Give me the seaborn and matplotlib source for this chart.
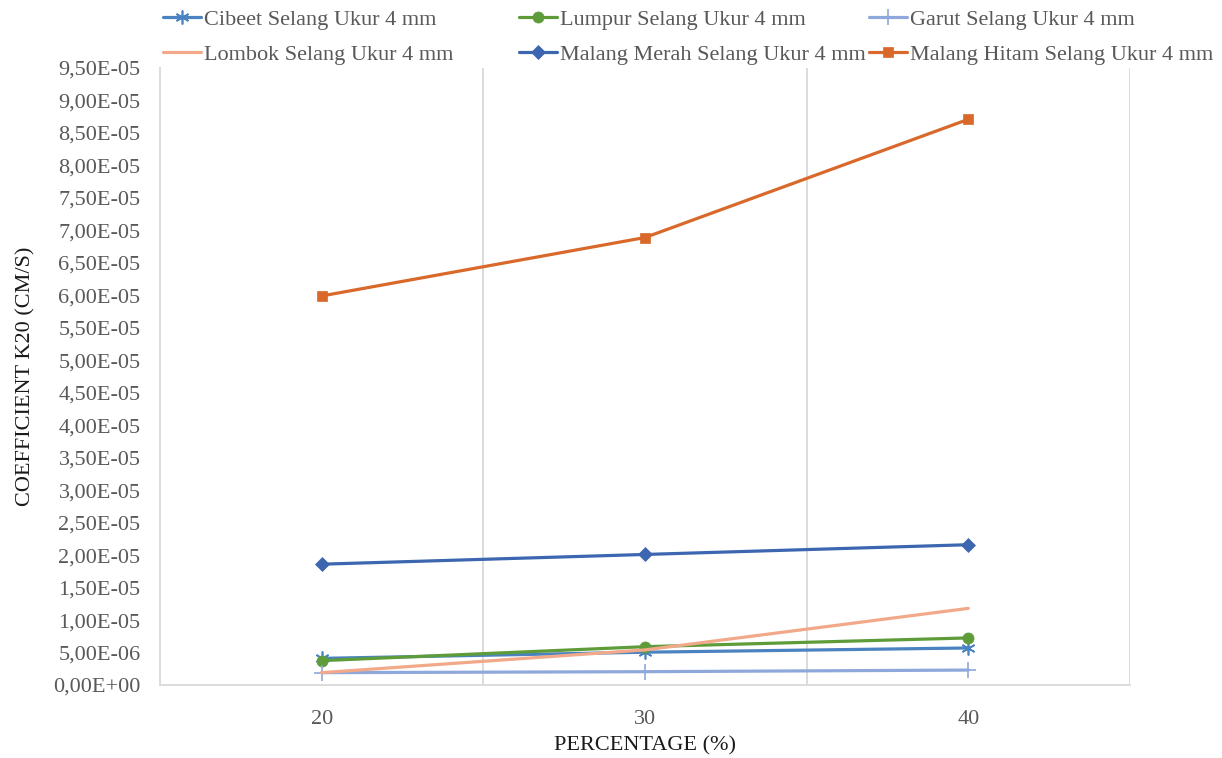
import matplotlib
matplotlib.use("Agg")
import matplotlib.pyplot as plt
import matplotlib.ticker as mticker
import seaborn as sns
import pandas as pd
import numpy as np

categories = ["20", "30", "40"]
series_names = [
    "Cibeet Selang Ukur 4 mm",
    "Lumpur Selang Ukur 4 mm",
    "Garut Selang Ukur 4 mm",
    "Lombok Selang Ukur 4 mm",
    "Malang Merah Selang Ukur 4 mm",
    "Malang Hitam Selang Ukur 4 mm",
]
cibeet = [4.10e-06, 5.05e-06, 5.70e-06]
lumpur = [3.75e-06, 5.90e-06, 7.25e-06]
garut = [1.90e-06, 2.05e-06, 2.30e-06]
lombok = [1.90e-06, 5.40e-06, 1.18e-05]
malang_merah = [1.86e-05, 2.01e-05, 2.16e-05]
malang_hitam = [5.99e-05, 6.89e-05, 8.71e-05]
values = [cibeet, lumpur, garut, lombok, malang_merah, malang_hitam]

colors = ["#4A83C0", "#5E9C3A", "#8FA8DC", "#F2A98A", "#3D66B0", "#D9692A"]
markers = [(6, 2, 0), "o", "+", None, "D", "s"]
msizes = [10, 8, 11, 0, 7, 7]

rows = []
for name, vals in zip(series_names, values):
    for i, v in enumerate(vals):
        rows.append({"series": name, "pos": i, "value": v})
df = pd.DataFrame(rows)

sns.set_theme(style="white")
plt.rcParams["font.family"] = ["Liberation Serif", "DejaVu Serif"]

fig = plt.figure(figsize=(12.22, 7.58), dpi=100)
ax = fig.add_axes([160 / 1222, 1 - 685 / 758, (1130 - 160) / 1222, (685 - 68) / 758])

handles = []
for name, c, m, ms in zip(series_names, colors, markers, msizes):
    sub = df[df["series"] == name]
    kw = dict(marker=m, markersize=ms, markeredgecolor=c, markerfacecolor=c,
              markeredgewidth=1.2 if m in ["+", (6, 2, 0)] else 0.5)
    if m is None:
        kw = {}
    sns.lineplot(data=sub, x="pos", y="value", color=c, linewidth=2.3, ax=ax,
                 legend=False, **kw)
    handles.append(ax.lines[-1])

ax.set_xlim(-0.5, 2.5)
ax.set_ylim(0, 9.5e-05)
ax.set_xticks(range(len(categories)))
ax.set_xticklabels(categories)
ax.set_xticks([0.5, 1.5, 2.5], minor=True)
ax.grid(False)
ax.grid(which="minor", axis="x", color="#D9D9D9", linewidth=1.3)
ax.set_yticks(np.arange(0, 9.51e-05, 0.5e-05))
ax.yaxis.set_major_formatter(mticker.FuncFormatter(lambda v, p: "{:.2E}".format(v).replace(".", ",")))
ax.tick_params(axis="both", which="both", length=0, labelsize=16, labelcolor="#595959")
ax.tick_params(axis="x", pad=18)
ax.tick_params(axis="y", pad=14)

for s in ["left", "bottom"]:
    ax.spines[s].set_color("#D9D9D9")
    ax.spines[s].set_linewidth(1.3)
ax.spines["top"].set_visible(False)
ax.spines["right"].set_visible(False)

ax.set_xlabel("PERCENTAGE (%)", fontsize=16, color="#1A1A1A", labelpad=5)
ax.set_ylabel("COEFFICIENT K20 (CM/S)", fontsize=16, color="#1A1A1A", labelpad=13)

col_x = [163, 519, 869]
groups = [[0, 3], [1, 4], [2, 5]]
for x0, g in zip(col_x, groups):
    leg = fig.legend([handles[i] for i in g], [series_names[i] for i in g],
                     loc="upper left", bbox_to_anchor=(x0 / 1222, 1 - 9 / 758),
                     frameon=False, fontsize=16, handlelength=1.7, handletextpad=0.15,
                     labelspacing=0.68, borderpad=0, borderaxespad=0)
    for t in leg.get_texts():
        t.set_color("#595959")

fig.savefig("out.png", dpi=100)
